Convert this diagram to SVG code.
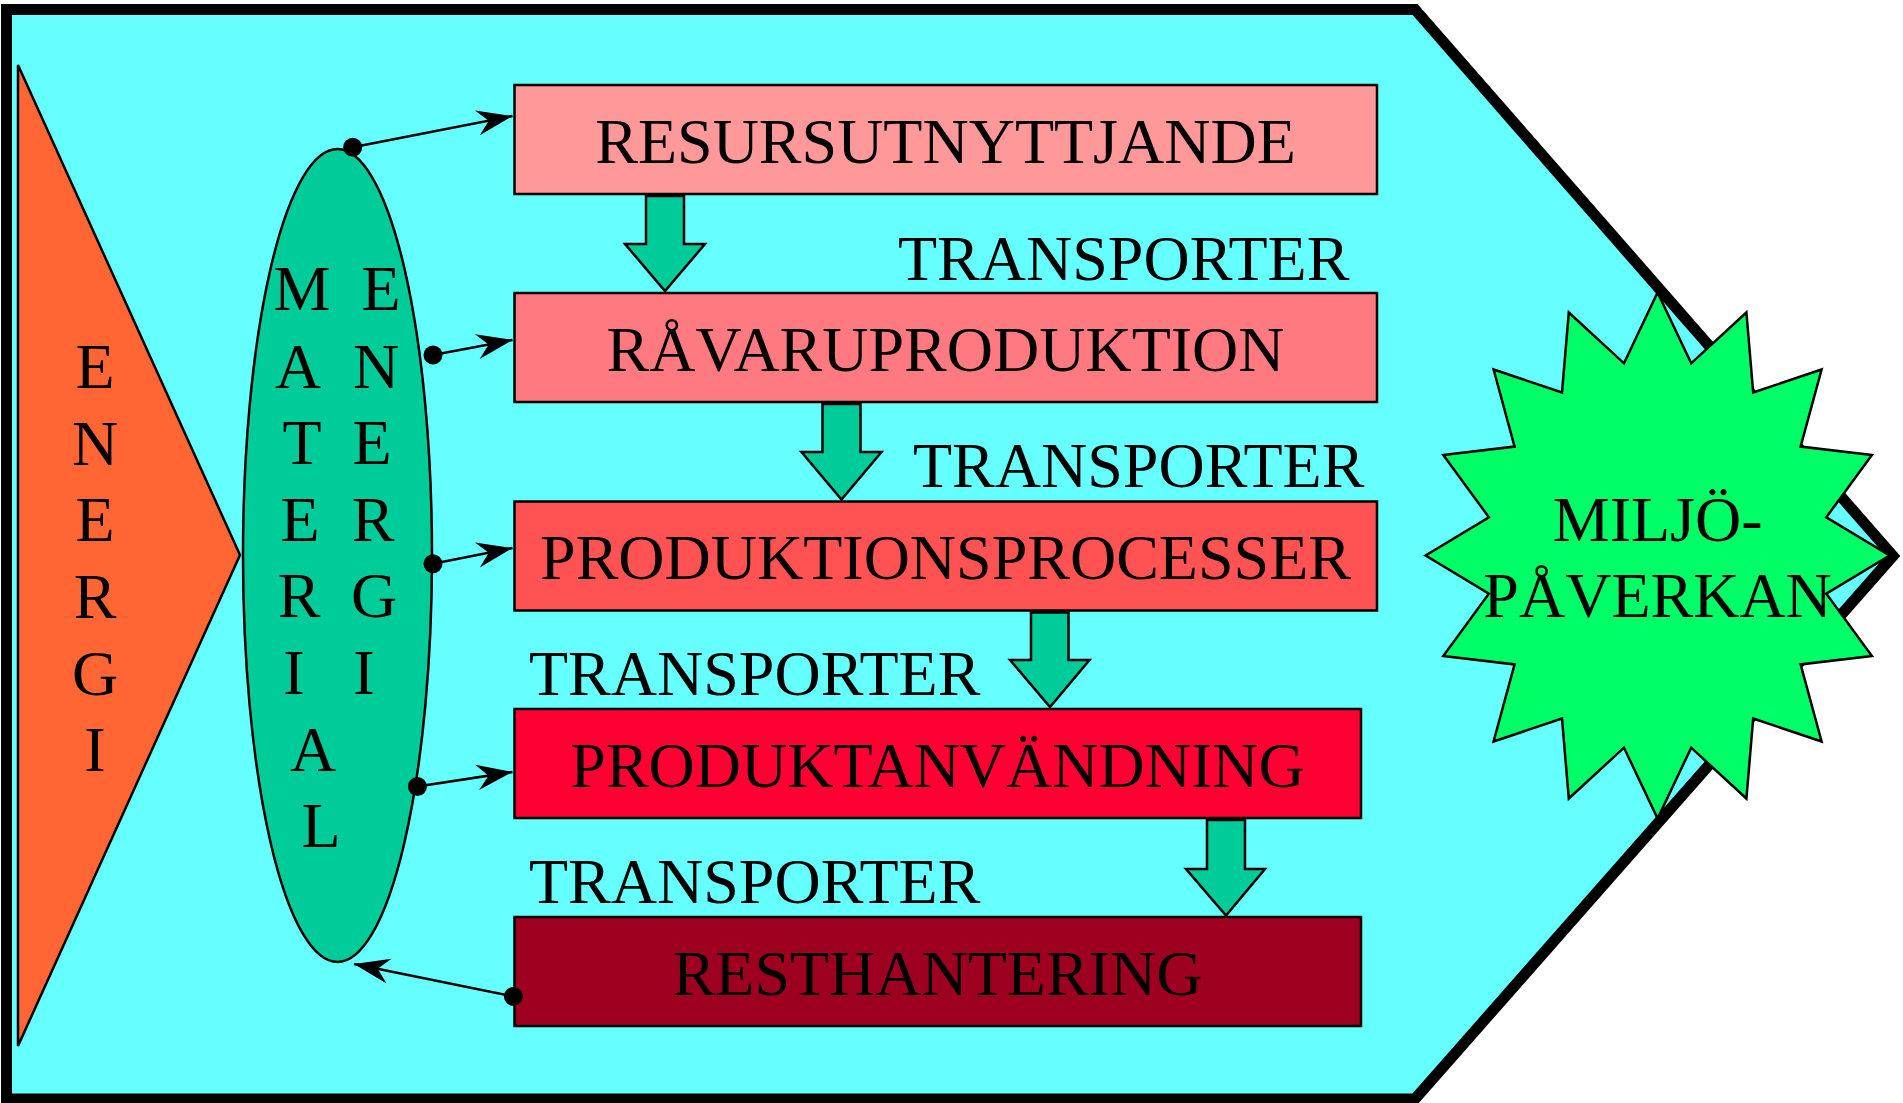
<svg xmlns="http://www.w3.org/2000/svg" width="1903" height="1103" viewBox="0 0 1903 1103">
<defs>
<style>
.t{font-family:"Liberation Serif","Times New Roman",serif;font-size:64px;fill:#000}
.m{text-anchor:middle}
.box{stroke:#000;stroke-width:2.5}
.blk{fill:#00CC99;stroke:#000;stroke-width:2.5;stroke-linejoin:miter}
.con{stroke:#000;stroke-width:2.5;fill:none}
</style>
<marker id="arr" markerUnits="userSpaceOnUse" markerWidth="40" markerHeight="30" viewBox="-32 -13 34 26" refX="0" refY="0" orient="auto">
<path d="M0,0 L-31,-11 L-21,0 L-31,11 Z" fill="#000"/>
</marker>
</defs>
<rect x="0" y="0" width="1903" height="1103" fill="#fff"/>
<g id="frame">
<polygon points="6.5,9.5 1415,9.5 1893,556 1415,1099 6.5,1099" fill="#66FFFF" stroke="#000" stroke-width="11" stroke-linejoin="miter"/>
</g>
<g id="energi">
<polygon points="18,65 240,555 18,1046" fill="#FF6633" stroke="#000" stroke-width="2.5"/>
<text class="t m" x="95" y="388">E</text>
<text class="t m" x="95" y="465">N</text>
<text class="t m" x="95" y="541">E</text>
<text class="t m" x="95" y="618">R</text>
<text class="t m" x="95" y="695">G</text>
<text class="t m" x="95" y="771">I</text>
</g>
<g id="material">
<ellipse cx="337.5" cy="555.5" rx="94.5" ry="406.5" fill="#00CC99" stroke="#000" stroke-width="2.5"/>
<text class="t m" x="302" y="310">M</text>
<text class="t m" x="298" y="388">A</text>
<text class="t m" x="302" y="464">T</text>
<text class="t m" x="300" y="541">E</text>
<text class="t m" x="299" y="617">R</text>
<text class="t m" x="294" y="694">I</text>
<text class="t m" x="313" y="771">A</text>
<text class="t m" x="321" y="847">L</text>
<text class="t m" x="381" y="310">E</text>
<text class="t m" x="376" y="388">N</text>
<text class="t m" x="372" y="464">E</text>
<text class="t m" x="373" y="541">R</text>
<text class="t m" x="374" y="617">G</text>
<text class="t m" x="364" y="694">I</text>
</g>
<g id="resursutnyttjande">
<rect class="box" x="514.5" y="85" width="862.5" height="109" fill="#FF9999"/>
<text class="t m" x="945.5" y="163">RESURSUTNYTTJANDE</text>
</g>
<g id="ravaruproduktion">
<rect class="box" x="514.5" y="293" width="862.5" height="109" fill="#FF7A80"/>
<text class="t m" x="945.5" y="371">RÅVARUPRODUKTION</text>
</g>
<g id="produktionsprocesser">
<rect class="box" x="514.5" y="501.5" width="862.5" height="109" fill="#FF5252"/>
<text class="t m" x="945.5" y="579">PRODUKTIONSPROCESSER</text>
</g>
<g id="produktanvandning">
<rect class="box" x="514.5" y="709" width="846.5" height="109" fill="#FF0033"/>
<text class="t m" x="937.5" y="787">PRODUKTANVÄNDNING</text>
</g>
<g id="resthantering">
<rect class="box" x="514.5" y="917" width="846.5" height="109" fill="#9E0020"/>
<text class="t m" x="937.5" y="995">RESTHANTERING</text>
</g>
<g id="transport-labels">
<text class="t" x="898" y="280">TRANSPORTER</text>
<text class="t" x="913" y="487">TRANSPORTER</text>
<text class="t" x="529" y="695">TRANSPORTER</text>
<text class="t" x="529" y="903">TRANSPORTER</text>
</g>
<g id="flow-arrows">
<polygon class="blk" points="646,196 684,196 684,244 705,244 665,291 625,244 646,244"/>
<polygon class="blk" points="822.5,404 860.5,404 860.5,452 881.5,452 841.5,499.5 801.5,452 822.5,452"/>
<polygon class="blk" points="1031,612.5 1068.5,612.5 1068.5,660 1089.5,660 1050,707 1010,660 1031,660"/>
<polygon class="blk" points="1207,820 1245,820 1245,869 1265,869 1226,915.5 1186,869 1207,869"/>
</g>
<g id="connectors">
<line class="con" x1="352.7" y1="147.3" x2="512.5" y2="116" marker-end="url(#arr)"/>
<circle cx="352.7" cy="147.3" r="9.5"/>
<line class="con" x1="433" y1="355" x2="512.5" y2="340" marker-end="url(#arr)"/>
<circle cx="433" cy="355" r="9.5"/>
<line class="con" x1="433" y1="563.7" x2="512.5" y2="548" marker-end="url(#arr)"/>
<circle cx="433" cy="563.7" r="9.5"/>
<line class="con" x1="417.4" y1="786.5" x2="512.5" y2="772" marker-end="url(#arr)"/>
<circle cx="417.4" cy="786.5" r="9.5"/>
<line class="con" x1="513.4" y1="996.4" x2="354" y2="964" marker-end="url(#arr)"/>
<circle cx="513.4" cy="996.4" r="9.5"/>
</g>
<g id="miljopaverkan">
<polygon points="1657.6,292.5 1691.2,363.3 1746.4,312.5 1753.2,392.5 1821.6,369.5 1800.6,446.6 1871.9,454.9 1826.3,517.3 1889.6,555.5 1826.3,593.7 1871.9,656.1 1800.6,664.4 1821.6,741.5 1753.2,718.5 1746.4,798.5 1691.2,747.7 1657.6,818.5 1624,747.7 1568.8,798.5 1562,718.5 1493.6,741.5 1514.6,664.4 1443.3,656.1 1488.9,593.7 1425.6,555.5 1488.9,517.3 1443.3,454.9 1514.6,446.6 1493.6,369.5 1562,392.5 1568.8,312.5 1624,363.3" fill="#00FF66" stroke="#000" stroke-width="2.5"/>
<text class="t m" x="1657.6" y="541">MILJÖ-</text>
<text class="t m" x="1657.6" y="617">PÅVERKAN</text>
</g>
</svg>
